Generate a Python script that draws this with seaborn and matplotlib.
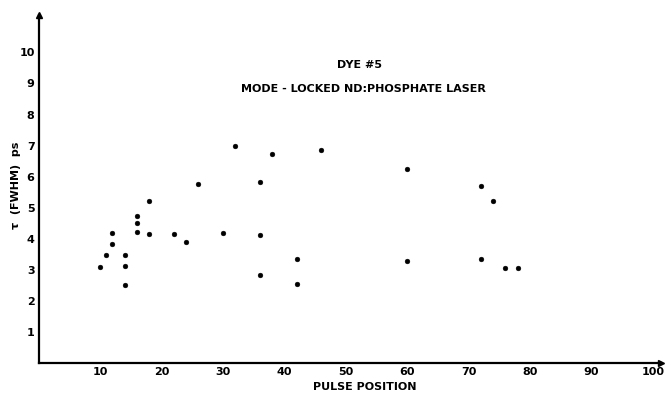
import matplotlib
matplotlib.use("Agg")
import matplotlib.pyplot as plt
import seaborn as sns
import pandas as pd

# Data
pulse_position = [10, 11, 12, 12, 14, 14, 14, 16, 16, 16, 18, 18, 22, 24, 26,
                  30, 32, 36, 36, 36, 38, 42, 42, 46, 60, 60, 72, 72, 74, 76, 78]
fwhm_ps = [3.10, 3.49, 3.85, 4.19, 3.48, 3.12, 2.51, 4.73, 4.50, 4.22, 5.23, 4.17,
           4.17, 3.90, 5.76, 4.18, 6.99, 5.83, 4.12, 2.85, 6.74, 3.36, 2.56, 6.86,
           6.24, 3.29, 5.71, 3.36, 5.21, 3.07, 3.07]
x_ticks = [10, 20, 30, 40, 50, 60, 70, 80, 90, 100]
y_ticks = [1, 2, 3, 4, 5, 6, 7, 8, 9, 10]
title_lines = ["DYE #5", "MODE - LOCKED ND:PHOSPHATE LASER"]
x_label = "PULSE POSITION"
y_label = "τ  (FWHM)  ps"

df = pd.DataFrame({"pos": pulse_position, "fwhm": fwhm_ps})

sns.set_theme(style="white")
plt.rcParams["font.family"] = ["DejaVu Sans"]
plt.rcParams["text.color"] = "black"
plt.rcParams["axes.labelcolor"] = "black"

fig = plt.figure(figsize=(6.68, 3.97), dpi=100)
ax = fig.add_axes([0.058, 0.085, 0.932, 0.877])

sns.scatterplot(data=df, x="pos", y="fwhm", ax=ax, color="black", s=12,
                edgecolor="black", linewidth=0.3)

ax.set_xlim(0, 101.4)
ax.set_ylim(0, 11.2)
ax.set_xticks(x_ticks)
ax.set_yticks(y_ticks)
ax.set_xticklabels([str(t) for t in x_ticks], fontsize=8, fontweight="bold")
ax.set_yticklabels([str(t) for t in y_ticks], fontsize=8, fontweight="bold")
ax.tick_params(axis="both", direction="in", length=4, width=1.2, colors="black", pad=3)

for side in ["top", "right"]:
    ax.spines[side].set_visible(False)
for side in ["left", "bottom"]:
    ax.spines[side].set_color("black")
    ax.spines[side].set_linewidth(1.6)

# axis arrow heads
ax.plot(1, 0, ">", color="black", markersize=4, transform=ax.transAxes, clip_on=False)
ax.plot(0, 1, "^", color="black", markersize=4, transform=ax.transAxes, clip_on=False)

ax.set_xlabel(x_label, fontsize=8, fontweight="bold")
ax.xaxis.set_label_coords(0.523, -0.055)
ax.set_ylabel(y_label, fontsize=8, fontweight="bold")
ax.yaxis.set_label_coords(-0.028, 0.51)

ax.text(0.516, 0.857, title_lines[0], transform=ax.transAxes, ha="center",
        va="center", fontsize=8, fontweight="bold")
ax.text(0.521, 0.788, title_lines[1], transform=ax.transAxes, ha="center",
        va="center", fontsize=8, fontweight="bold")

ax.grid(False)
fig.savefig("out.png", dpi=100, facecolor="white")
